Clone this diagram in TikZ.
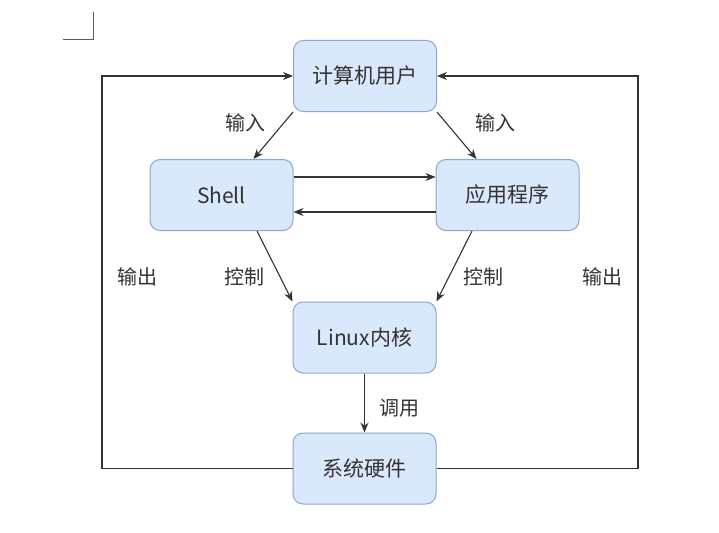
\documentclass[tikz,border=0pt]{standalone}
\usepackage{fontspec}
\setmainfont{Noto Sans CJK SC}
\usetikzlibrary{arrows.meta}
\definecolor{boxfill}{HTML}{DAE8FC}
\definecolor{boxline}{HTML}{8CA6D2}
\definecolor{ink}{HTML}{333333}
\tikzset{
  box/.style={draw=boxline, fill=boxfill, line width=1pt, rounded corners=10pt,
    minimum width=143pt, minimum height=71pt, inner sep=0pt, text=ink,
    font=\fontsize{21pt}{24pt}\selectfont},
  lbl/.style={text=ink, inner sep=0pt, font=\fontsize{20pt}{24pt}\selectfont},
  conn/.style={draw=ink, line width=1.1pt, -{Stealth[length=10pt,width=8pt]}},
  cropmark/.style={draw=ink!80, line width=1pt}
}
\begin{document}
\begin{tikzpicture}[x=1pt,y=-1pt]
\useasboundingbox[fill=white] (0,0) rectangle (719,532);
\draw[cropmark] (63,40) -- (93,40) -- (93,12);
\node[box] (user) at (365,76) {计算机用户};
\node[box] (shell) at (221.5,195) {Shell};
\node[box] (app) at (507.5,195) {应用程序};
\node[box] (kernel) at (364.5,337.5) {Linux内核};
\node[box] (hw) at (364.5,468.5) {系统硬件};
\coordinate (lb) at (102,468.5);
\coordinate (rb) at (638,468.5);
\draw[conn] (user.south west) -- ([xshift=32pt]shell.north);
\draw[conn] (user.south east) -- ([xshift=-31pt]app.north);
\draw[conn] ([yshift=18pt]shell.east) -- ([yshift=18pt]app.west);
\draw[conn] ([yshift=-17pt]app.west) -- ([yshift=-17pt]shell.east);
\draw[conn] ([xshift=35.5pt]shell.south) -- (kernel.north west);
\draw[conn] ([xshift=-35.5pt]app.south) -- (kernel.north east);
\draw[conn] (kernel.south) -- (hw.north);
\draw[conn] (hw.west) -- (lb) |- (user.west);
\draw[conn] (hw.east) -- (rb) |- (user.east);
\node[lbl] (in1) at (245,123) {输入};
\node[lbl] (in2) at (495,123) {输入};
\node[lbl] (out1) at (137,277) {输出};
\node[lbl] (out2) at (602,277) {输出};
\node[lbl] (ctl1) at (244,277) {控制};
\node[lbl] (ctl2) at (483,277) {控制};
\node[lbl] (call) at (399,408) {调用};
\end{tikzpicture}
\end{document}
